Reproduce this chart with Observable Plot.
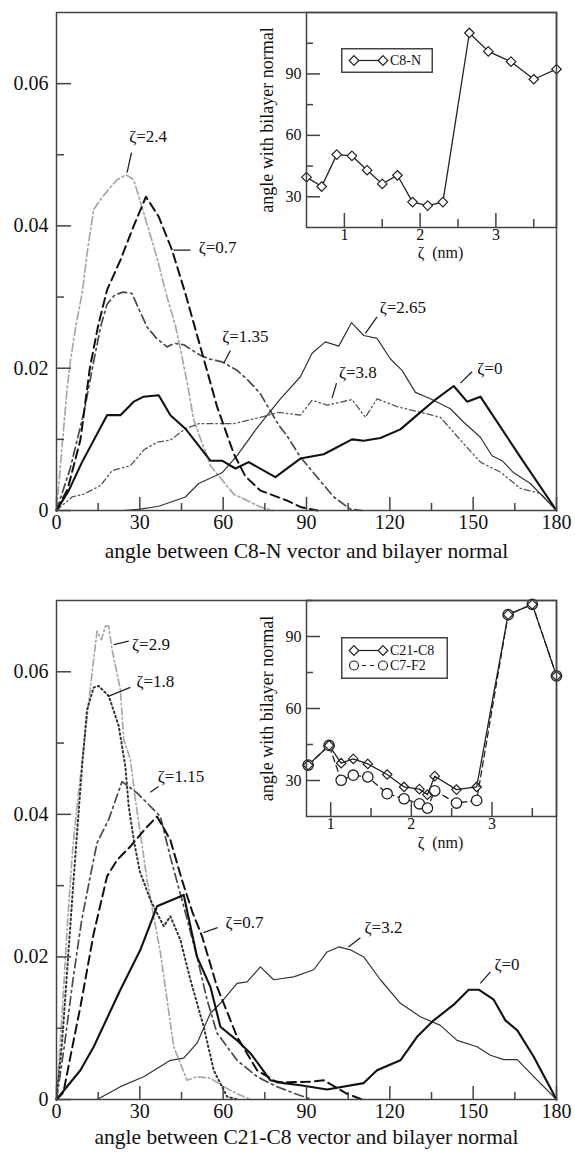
<!DOCTYPE html>
<html><head><meta charset="utf-8">
<script src="https://cdn.jsdelivr.net/npm/d3@7"></script>
<script src="https://cdn.jsdelivr.net/npm/@observablehq/plot@0.6"></script>
<style>
html,body{margin:0;padding:0;background:#fff;}
#root{position:relative;width:575px;height:1155px;overflow:hidden;background:#fff;font-family:"Liberation Serif",serif;}
#root > svg{position:absolute;overflow:visible;}
</style></head><body><div id="root"></div>
<script>
const FONT = "Liberation Serif";

// ================= DATA: panel A (C8-N vector) =================
// [angle (deg), probability]
const a_z0    = [[0,0],[4.4,0.0028],[9.2,0.0068],[18.2,0.0134],[23,0.0134],[27.8,0.0153],[31.4,0.016],[36.8,0.0162],[41,0.0134],[46.4,0.0115],[55.4,0.007],[59.6,0.007],[64.4,0.0059],[69.2,0.0068],[78.8,0.0047],[87.8,0.0073],[96.2,0.0079],[106.4,0.01],[110.6,0.0098],[116.6,0.0102],[123.8,0.0114],[129.8,0.0134],[135.8,0.0154],[143,0.0175],[147.8,0.0153],[152.6,0.016],[167,0.0075],[180,0]];
const a_z07   = [[0,0],[4,0.003],[8.6,0.0099],[12,0.02],[15,0.026],[18.2,0.031],[23,0.0352],[27.8,0.04],[32.2,0.0441],[36.8,0.0413],[41.6,0.0366],[46.4,0.0305],[51.8,0.023],[57.8,0.0146],[63.8,0.008],[68,0.0048],[73.4,0.0028],[83,0.0014],[87.8,0.0005],[94,0]];
const a_z135  = [[0,0],[5,0.006],[10,0.014],[13.4,0.021],[16,0.026],[18.2,0.029],[21,0.0303],[24,0.0307],[27.2,0.0305],[30,0.028],[32.6,0.0258],[36,0.0242],[39.8,0.023],[42.5,0.0235],[45.8,0.0233],[51.8,0.0218],[55,0.0213],[59.6,0.0209],[65,0.0197],[69,0.0183],[73.4,0.0164],[80,0.012],[83,0.0105],[87.8,0.0075],[93.8,0.0047],[99.8,0.0019],[105.8,0.0002],[110,0]];
const a_z24   = [[0,0],[2,0.009],[3.8,0.017],[5,0.021],[7,0.026],[9.2,0.0305],[11.3,0.037],[13.4,0.0423],[15.8,0.0437],[18.5,0.045],[21.8,0.0465],[25,0.0472],[27.8,0.0465],[31.4,0.0418],[36.2,0.0355],[39.8,0.03],[42.8,0.026],[45.2,0.0216],[47.5,0.017],[49.4,0.0127],[55.4,0.0063],[63.8,0.0023],[73.4,0.0005],[78,0]];
const a_z265  = [[0,0],[24,0],[30.2,0.0002],[36.8,0.0006],[46.4,0.0019],[51.2,0.0038],[59.6,0.0053],[65,0.0077],[72,0.0115],[80.6,0.0157],[87.8,0.0188],[92,0.0221],[96.8,0.0237],[101.6,0.0231],[106.2,0.0264],[110.6,0.0246],[115.4,0.0242],[120.2,0.0213],[124.4,0.0197],[129.2,0.0166],[134.6,0.0157],[141.8,0.0143],[146.6,0.0124],[152.6,0.0103],[156.8,0.0077],[160.4,0.007],[164.6,0.0053],[170.6,0.0038],[180,0]];
const a_z38   = [[0,0],[5.6,0.0019],[9.8,0.0023],[15.8,0.0035],[20,0.0056],[26.6,0.0063],[31.4,0.0085],[36.2,0.0096],[41,0.0099],[46.4,0.0115],[51.2,0.0122],[63.8,0.0122],[73.4,0.0131],[80,0.0138],[87.8,0.0134],[92,0.0155],[97.4,0.0148],[106.4,0.0156],[111.2,0.0131],[115.4,0.0157],[122.6,0.0146],[131,0.0138],[138.2,0.0131],[145.4,0.0099],[152.6,0.0068],[159.8,0.0054],[167,0.0031],[174.2,0.0024],[180,0]];

// inset A: zeta (nm) vs angle (deg)
const insA_zeta  = [0.5,0.7,0.9,1.1,1.3,1.5,1.7,1.9,2.1,2.3,2.65,2.9,3.2,3.5,3.8];
const insA_c8n   = [39.6,35,50.6,50,43,36.3,40.5,27.4,25.7,27.4,110,101,96,87.4,92.3];

// ================= DATA: panel B (C21-C8 vector) =================
const b_z0    = [[0,0],[8.6,0.0041],[13.4,0.0074],[23,0.0154],[30.2,0.021],[36.2,0.0271],[45.8,0.0287],[50.6,0.02],[55.4,0.0158],[59,0.0102],[65,0.0083],[69.8,0.0065],[77,0.0027],[81.8,0.0023],[87.8,0.002],[97.4,0.0014],[110.6,0.0023],[115.4,0.0041],[123.8,0.0055],[129.8,0.0088],[135.8,0.0111],[143,0.0133],[148.4,0.0154],[152,0.0154],[157.4,0.014],[161.6,0.0111],[165.9,0.0097],[171.8,0.006],[180,0]];
const b_z07   = [[0,0],[2.5,0.001],[5,0.006],[8.6,0.013],[13.4,0.0233],[18.2,0.0313],[21.8,0.0336],[26.6,0.0355],[32,0.038],[36.2,0.0397],[41,0.0364],[45,0.031],[49,0.0262],[52.4,0.0229],[57.8,0.0158],[65,0.0088],[72.2,0.0041],[79.4,0.0024],[91.4,0.0025],[96.2,0.0027],[104.6,0.0008],[110,0]];
const b_z115  = [[0,0],[3,0.008],[6,0.017],[9,0.025],[12,0.031],[14.6,0.036],[18.8,0.0393],[23.6,0.0446],[29,0.043],[32.6,0.0416],[37.4,0.0397],[41,0.034],[45.8,0.0271],[50.6,0.02],[54.2,0.014],[57.8,0.0093],[65,0.0055],[72.2,0.0032],[79.4,0.0018],[86,0.0008],[92,0]];
const b_z18   = [[0,0],[2,0.008],[4,0.019],[6,0.03],[7.4,0.0374],[9.2,0.0467],[11,0.0547],[13.4,0.0578],[15.2,0.058],[18.8,0.0566],[22.4,0.0524],[24.8,0.0467],[26,0.0411],[28,0.036],[30,0.032],[33.8,0.028],[38.6,0.0243],[41,0.0257],[44.6,0.0224],[48.2,0.0168],[53,0.0102],[56.6,0.0041],[61.4,0.0004],[65,0]];
const b_z29   = [[0,0],[2,0.012],[4,0.025],[5.8,0.035],[7.4,0.0411],[10.4,0.0515],[12.8,0.0599],[14.6,0.0657],[16.2,0.0645],[17.6,0.0664],[18.8,0.0664],[20,0.0631],[23,0.0575],[24.2,0.0505],[26.6,0.0477],[28.4,0.0421],[32.6,0.0308],[37.4,0.0206],[42.2,0.0074],[47,0.0027],[50.6,0.0032],[55.4,0.003],[60.2,0.0018],[65,0.0008],[70,0]];
const b_z32   = [[0,0],[14.6,0],[23,0.0018],[31.4,0.0032],[41,0.0055],[45.8,0.0058],[50.6,0.0079],[55.4,0.0121],[59,0.0135],[65,0.0163],[68.6,0.0165],[73.4,0.0186],[78.2,0.0168],[85.4,0.0172],[92.6,0.0182],[97.4,0.0207],[101.6,0.0214],[105.8,0.021],[110.6,0.02],[116.6,0.0168],[123.8,0.0135],[131,0.0116],[138.2,0.0104],[144.2,0.0083],[151.4,0.0074],[156.2,0.0062],[161,0.0056],[165.9,0.0056],[171.8,0.0032],[180,0]];

// inset B
const insB_zeta   = [0.72,0.98,1.13,1.28,1.46,1.7,1.91,2.1,2.2,2.29,2.56,2.81,3.2,3.5,3.8];
const insB_c21c8  = [36.4,44.6,37.2,39,36.9,32.5,27.3,26.4,24.1,31.8,26.2,27.3,99.1,103.4,73.6];
const insB_c7f2   = [36.4,44.6,30.1,32.2,31.5,24.5,22.4,20.3,18.5,25.7,20.6,21.7,99.1,103.4,73.6];

// ================= TICKS =================
const mainXMajor = [0,30,60,90,120,150,180];
const mainXMinor = [15,45,75,105,135,165];
const mainYMajor = [0,0.02,0.04,0.06];
const mainYMinor = [0.01,0.03,0.05];
const insXMajor = [1,2,3];
const insXMinor = [1.5,2.5,3.5];
const insYMajor = [30,60,90];
const insYMinor = [45,75,105];

// ================= LABELS (annotation anchors in data units) =================
const a_labels = [
  {text:"ζ=2.4",  x:33,    y:0.0525, x1:25.4, y1:0.0475, x2:27,   y2:0.0503},
  {text:"ζ=0.7",  x:58,    y:0.0369, x1:42.1, y1:0.0366, x2:48.2, y2:0.0366},
  {text:"ζ=1.35", x:68,    y:0.0244, x1:62.6, y1:0.0225, x2:60.2, y2:0.0207},
  {text:"ζ=2.65", x:124.7, y:0.0285, x1:111.2,y1:0.0249, x2:115.4,y2:0.0272},
  {text:"ζ=3.8",  x:108.5, y:0.0194, x1:99.2, y1:0.0158, x2:100.8,y2:0.0179},
  {text:"ζ=0",    x:156,   y:0.02,   x1:145.4,y1:0.0179, x2:149.6,y2:0.0195}
];
const b_labels = [
  {text:"ζ=2.9",  x:34,    y:0.0638, x1:20.6, y1:0.0638, x2:26,   y2:0.0643},
  {text:"ζ=1.8",  x:35.6,  y:0.0587, x1:18.8, y1:0.0566, x2:26.6, y2:0.0578},
  {text:"ζ=1.15", x:44.8,  y:0.0453, x1:33.8, y1:0.0431, x2:36.7, y2:0.0439},
  {text:"ζ=0.7",  x:67.7,  y:0.0248, x1:52.9, y1:0.0234, x2:58,   y2:0.0241},
  {text:"ζ=3.2",  x:117.7, y:0.0241, x1:105.1,y1:0.0214, x2:109.4,y2:0.0227},
  {text:"ζ=0",    x:162.2, y:0.0189, x1:152.6,y1:0.0163, x2:156.2,y2:0.0179}
];

// ================= STYLES =================
const sty = {
  z0:   {stroke:"#111", strokeWidth:2.1},
  dash: {stroke:"#111", strokeWidth:2, strokeDasharray:"9,5"},
  dd:   {stroke:"#4a4a4a", strokeWidth:1.7, strokeDasharray:"9,4,2,4"},
  light:{stroke:"#a8a8a8", strokeWidth:1.7, strokeDasharray:"8,3,2,3"},
  thin: {stroke:"#333", strokeWidth:1.2},
  ddd:  {stroke:"#555", strokeWidth:1.3, strokeDasharray:"6,3,1.5,3,1.5,3"},
  dot:  {stroke:"#333", strokeWidth:2, strokeDasharray:"1.5,3"}
};
const FRAME = "#444";

const root = document.getElementById("root");

function mainPlot({series, labels, xTitle, top, height, marginBottom, titleDy}) {
  const mt = 12, W = 500, H = height - mt - marginBottom;
  const marks = [];
  for (const [pts, s] of series) {
    marks.push(Plot.line(pts, {x: d => d[0], y: d => d[1], strokeLinejoin: "round", ...s}));
  }
  marks.push(
    Plot.link(labels, {x1: "x1", y1: "y1", x2: "x2", y2: "y2", stroke: "#222", strokeWidth: 1.3}),
    Plot.text(labels, {x: "x", y: "y", text: "text", fontSize: 17, fontFamily: FONT, fill: "#111"}),
    Plot.frame({stroke: FRAME, strokeWidth: 1.5}),
    Plot.tickX(mainXMajor, {x: d => d, insetTop: H - 13, stroke: FRAME, strokeWidth: 1.5}),
    Plot.tickX(mainXMinor, {x: d => d, insetTop: H - 7, stroke: FRAME, strokeWidth: 1.5}),
    Plot.tickY(mainYMajor, {y: d => d, insetRight: W - 15, stroke: FRAME, strokeWidth: 1.5}),
    Plot.tickY(mainYMinor, {y: d => d, insetRight: W - 8, stroke: FRAME, strokeWidth: 1.5}),
    Plot.text(mainXMajor, {x: d => d, text: d => String(d), frameAnchor: "bottom", dy: 18, fontSize: 20, fontFamily: FONT, fill: "#111"}),
    Plot.text(mainYMajor, {y: d => d, text: d => d === 0 ? "0" : d.toFixed(2), frameAnchor: "left", textAnchor: "end", dx: -8, fontSize: 20, fontFamily: FONT, fill: "#111"}),
    Plot.text([xTitle], {text: d => d, frameAnchor: "bottom", textAnchor: "middle", dy: titleDy, fontSize: 21.5, fontFamily: FONT, fill: "#111"})
  );
  const svg = Plot.plot({
    width: 575, height, marginLeft: 56, marginRight: 19, marginTop: mt, marginBottom,
    x: {domain: [0, 180], axis: null},
    y: {domain: [0, 0.07], axis: null},
    style: {fontFamily: FONT, background: "transparent", color: "#111", overflow: "visible"},
    marks
  });
  svg.style.left = "0px"; svg.style.top = top + "px";
  root.appendChild(svg);
}

function insetPlot({xDomain, yDomain, top, marginBottom, lines, xTitleDy}) {
  const W = 250, height = 272, mt = 12, H = height - mt - marginBottom;
  const marks = [];
  for (const m of lines) marks.push(m);
  marks.push(
    Plot.frame({stroke: FRAME, strokeWidth: 1.5}),
    Plot.tickX(insXMajor, {x: d => d, insetTop: H - 14, stroke: FRAME, strokeWidth: 1.5}),
    Plot.tickX(insXMinor, {x: d => d, insetTop: H - 8, stroke: FRAME, strokeWidth: 1.5}),
    Plot.tickY(insYMajor, {y: d => d, insetRight: W - 14, stroke: FRAME, strokeWidth: 1.5}),
    Plot.tickY(insYMinor, {y: d => d, insetRight: W - 7, stroke: FRAME, strokeWidth: 1.5}),
    Plot.text(insXMajor, {x: d => d, text: d => String(d), frameAnchor: "bottom", dy: 12, fontSize: 16, fontFamily: FONT, fill: "#111"}),
    Plot.text(insYMajor, {y: d => d, text: d => String(d), frameAnchor: "left", textAnchor: "end", dx: -5, fontSize: 16, fontFamily: FONT, fill: "#111"}),
    Plot.text(["ζ\u00a0 (nm)"], {text: d => d, frameAnchor: "bottom", textAnchor: "middle", dx: 9, dy: xTitleDy, fontSize: 16, fontFamily: FONT, fill: "#111"}),
    Plot.text(["angle with bilayer normal"], {text: d => d, frameAnchor: "left", textAnchor: "middle", dx: -39, rotate: -90, fontSize: 18, fontFamily: FONT, fill: "#111"})
  );
  const svg = Plot.plot({
    width: 335, height, marginLeft: 66, marginRight: 19, marginTop: mt, marginBottom,
    x: {domain: xDomain, axis: null},
    y: {domain: yDomain, axis: null},
    style: {fontFamily: FONT, background: "transparent", color: "#111", overflow: "visible"},
    marks
  });
  svg.style.left = "240px"; svg.style.top = top + "px";
  root.appendChild(svg);
}

function legend({left, top, w, h, rows}) {
  const svg = d3.create("svg").attr("width", w).attr("height", h)
    .style("left", left + "px").style("top", top + "px");
  svg.append("rect").attr("x", 0.75).attr("y", 0.75).attr("width", w - 1.5).attr("height", h - 1.5)
    .attr("fill", "#fff").attr("stroke", FRAME).attr("stroke-width", 1.5);
  const n = rows.length, step = 15, y0 = h / 2 - (n - 1) * step / 2;
  rows.forEach((r, i) => {
    const y = y0 + i * step;
    svg.append("line").attr("x1", 13).attr("x2", 42).attr("y1", y).attr("y2", y)
      .attr("stroke", "#222").attr("stroke-width", 1.2).attr("stroke-dasharray", r.dash || null);
    for (const cx of [13, 42]) {
      if (r.symbol === "circle") svg.append("circle").attr("cx", cx).attr("cy", y).attr("r", 4.5).attr("fill", "#fff").attr("stroke", "#222").attr("stroke-width", 1.2);
      else svg.append("path").attr("d", `M${cx},${y-4.8}L${cx+4.8},${y}L${cx},${y+4.8}L${cx-4.8},${y}Z`).attr("fill", "#fff").attr("stroke", "#222").attr("stroke-width", 1.2);
    }
    svg.append("text").attr("x", 49).attr("y", y).attr("dy", "0.34em").attr("font-family", FONT)
      .attr("font-size", 14).attr("fill", "#111").text(r.label);
  });
  root.appendChild(svg.node());
}

// ---------------- Panel A ----------------
mainPlot({
  series: [[a_z24, sty.light], [a_z135, sty.dd], [a_z38, sty.ddd], [a_z265, sty.thin], [a_z07, sty.dash], [a_z0, sty.z0]],
  labels: a_labels, xTitle: "angle between C8-N vector and bilayer normal",
  top: 0, height: 580, marginBottom: 70, titleDy: 47
});
const insA = insA_zeta.map((z, i) => ({z, a: insA_c8n[i]}));
insetPlot({
  xDomain: [0.5, 3.8], yDomain: [15, 120], top: 0, marginBottom: 45, xTitleDy: 30,
  lines: [
    Plot.line(insA, {x: "z", y: "a", stroke: "#222", strokeWidth: 1.3}),
    Plot.dot(insA, {x: "z", y: "a", symbol: "diamond2", r: 4.3, fill: "#fff", stroke: "#222", strokeWidth: 1.2})
  ]
});
legend({left: 341, top: 48, w: 92, h: 25, rows: [{label: "C8-N", symbol: "diamond"}]});

// ---------------- Panel B ----------------
mainPlot({
  series: [[b_z29, {...sty.light, strokeDasharray: "7,3,1.5,3"}], [b_z18, sty.dot], [b_z115, sty.dd], [b_z32, sty.thin], [b_z07, sty.dash], [b_z0, sty.z0]],
  labels: b_labels, xTitle: "angle between C21-C8 vector and bilayer normal",
  top: 588, height: 567, marginBottom: 56, titleDy: 44
});
const insB1 = insB_zeta.map((z, i) => ({z, a: insB_c21c8[i]}));
const insB2 = insB_zeta.map((z, i) => ({z, a: insB_c7f2[i]}));
insetPlot({
  xDomain: [0.7, 3.8], yDomain: [15, 105], top: 588, marginBottom: 44, xTitleDy: 31,
  lines: [
    Plot.line(insB2, {x: "z", y: "a", stroke: "#222", strokeWidth: 1.3, strokeDasharray: "6,4"}),
    Plot.line(insB1, {x: "z", y: "a", stroke: "#222", strokeWidth: 1.3}),
    Plot.dot(insB2, {x: "z", y: "a", symbol: "circle", r: 5.2, fill: "#fff", stroke: "#222", strokeWidth: 1.3}),
    Plot.dot(insB1, {x: "z", y: "a", symbol: "diamond2", r: 4.3, fill: "none", stroke: "#222", strokeWidth: 1.2})
  ]
});
legend({left: 341, top: 637, w: 107, h: 42, rows: [{label: "C21-C8", symbol: "diamond"}, {label: "C7-F2", symbol: "circle", dash: "4,4"}]});
</script></body></html>
